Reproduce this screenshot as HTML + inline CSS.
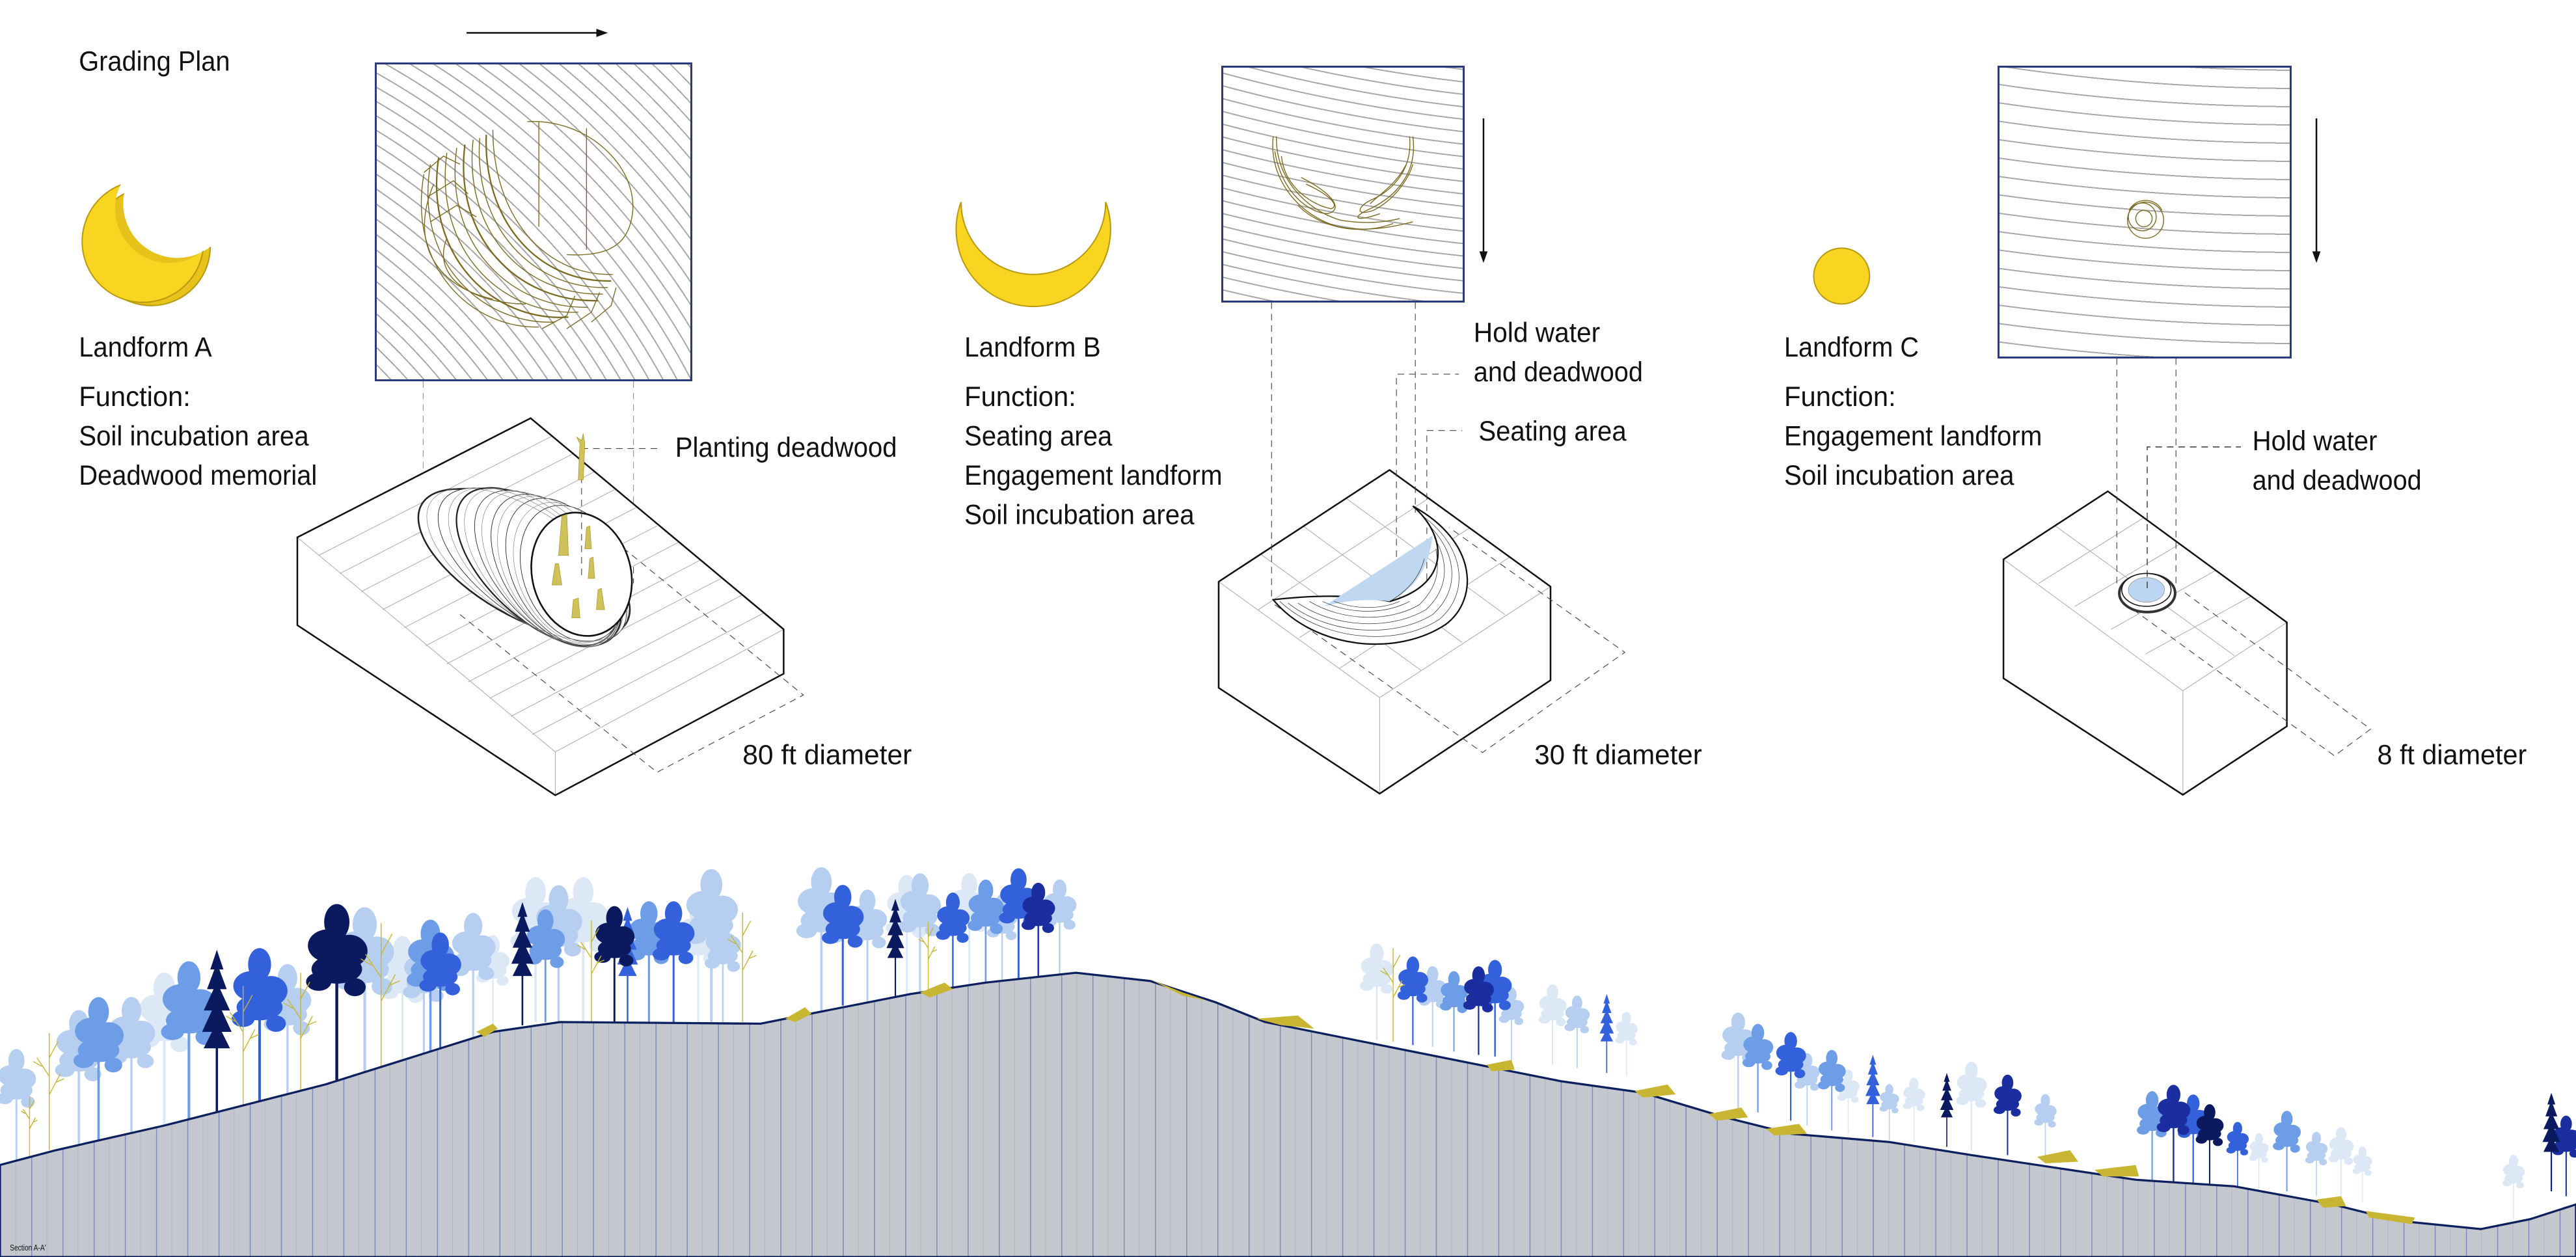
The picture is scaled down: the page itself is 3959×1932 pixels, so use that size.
<!DOCTYPE html>
<html><head><meta charset="utf-8"><style>
html,body{margin:0;padding:0;background:#fff;}
body{width:3959px;height:1932px;position:relative;overflow:hidden;}
.plan{position:absolute;box-sizing:border-box;border:3px solid #2b3a78;background-color:#fff;}
svg{position:absolute;left:0;top:0;}
text{font-family:"Liberation Sans Narrow","Liberation Sans",sans-serif;font-size:17px;fill:#111;}
</style></head><body>
<div class="plan" style="left:576px;top:96px;width:488px;height:490px;background-image:repeating-radial-gradient(circle at -576px 1040px, rgba(255,255,255,0) 0px, rgba(255,255,255,0) 17px, #a8a8a8 17px, #a8a8a8 19px);"></div>
<div class="plan" style="left:1877px;top:101px;width:374px;height:364px;background-image:repeating-radial-gradient(circle at 648px -2374px, rgba(255,255,255,0) 0px, rgba(255,255,255,0) 17px, #a8a8a8 17px, #a8a8a8 19px);"></div>
<div class="plan" style="left:3070px;top:101px;width:452px;height:450px;background-image:repeating-radial-gradient(circle at 465px -3131px, rgba(255,255,255,0) 0px, rgba(255,255,255,0) 26px, #a8a8a8 26px, #a8a8a8 28px);"></div>
<svg width="3959" height="1932" viewBox="0 0 1568 765" preserveAspectRatio="none" xmlns="http://www.w3.org/2000/svg">
<defs>
<pattern id="sec" width="19" height="6" patternUnits="userSpaceOnUse">
<rect width="19" height="6" fill="#c5c7ce"/>
<line x1="0.3" y1="0" x2="0.3" y2="6" stroke="#7d8cc0" stroke-width="0.6"/>
<line x1="9.5" y1="0" x2="9.5" y2="6" stroke="#b0b6c8" stroke-width="0.4"/>
</pattern>
<mask id="mA"><rect x="0" y="0" width="200" height="250" fill="#fff"/><circle cx="103" cy="127" r="33" fill="#000"/></mask>
<mask id="mA2"><rect x="0" y="0" width="200" height="250" fill="#fff"/><circle cx="108" cy="124" r="33" fill="#000"/></mask>
<g id="t1">
<rect x="-0.8" y="-92" width="1.6" height="92" fill="currentColor"/>
<ellipse cx="0" cy="-88" rx="7" ry="10" fill="currentColor"/>
<ellipse cx="-5" cy="-75" rx="11" ry="9" fill="currentColor"/>
<ellipse cx="7" cy="-72" rx="10" ry="9" fill="currentColor"/>
<ellipse cx="0" cy="-62" rx="14" ry="8" fill="currentColor"/>
<ellipse cx="-10" cy="-55" rx="7" ry="5" fill="currentColor"/>
<ellipse cx="10" cy="-52" rx="6" ry="5" fill="currentColor"/>
</g>
<g id="t2">
<rect x="-0.7" y="-96" width="1.4" height="96" fill="currentColor"/>
<polygon points="0,-100 4,-88 1.5,-88 6,-76 2,-76 8,-63 3,-63 9,-50 3,-50 8,-40 -8,-40 -3,-50 -9,-50 -3,-63 -8,-63 -2,-76 -6,-76 -1.5,-88 -4,-88" fill="currentColor"/>
</g>
<g id="t3" fill="none" stroke="currentColor" stroke-width="1.4" vector-effect="non-scaling-stroke">
<path d="M0,0 V-95 M0,-60 L-10,-75 M0,-45 L9,-62 M0,-75 L7,-88 M-6,-68 L-13,-72 M5,-55 L12,-58" vector-effect="non-scaling-stroke"/>
</g>
</defs>

<text x="48" y="43" textLength="92" lengthAdjust="spacingAndGlyphs">Grading Plan</text>
<text x="48" y="217" textLength="81" lengthAdjust="spacingAndGlyphs">Landform A</text>
<text x="48" y="247" textLength="68" lengthAdjust="spacingAndGlyphs">Function:</text>
<text x="48" y="271" textLength="140" lengthAdjust="spacingAndGlyphs">Soil incubation area</text>
<text x="48" y="295" textLength="145" lengthAdjust="spacingAndGlyphs">Deadwood memorial</text>
<text x="411" y="278" textLength="135" lengthAdjust="spacingAndGlyphs">Planting deadwood</text>
<text x="452" y="465" textLength="103" lengthAdjust="spacingAndGlyphs">80 ft diameter</text>
<text x="587" y="217" textLength="83" lengthAdjust="spacingAndGlyphs">Landform B</text>
<text x="587" y="247" textLength="68" lengthAdjust="spacingAndGlyphs">Function:</text>
<text x="587" y="271" textLength="90" lengthAdjust="spacingAndGlyphs">Seating area</text>
<text x="587" y="295" textLength="157" lengthAdjust="spacingAndGlyphs">Engagement landform</text>
<text x="587" y="319" textLength="140" lengthAdjust="spacingAndGlyphs">Soil incubation area</text>
<text x="897" y="208" textLength="77" lengthAdjust="spacingAndGlyphs">Hold water</text>
<text x="897" y="232" textLength="103" lengthAdjust="spacingAndGlyphs">and deadwood</text>
<text x="900" y="268" textLength="90" lengthAdjust="spacingAndGlyphs">Seating area</text>
<text x="934" y="465" textLength="102" lengthAdjust="spacingAndGlyphs">30 ft diameter</text>
<text x="1086" y="217" textLength="82" lengthAdjust="spacingAndGlyphs">Landform C</text>
<text x="1086" y="247" textLength="68" lengthAdjust="spacingAndGlyphs">Function:</text>
<text x="1086" y="271" textLength="157" lengthAdjust="spacingAndGlyphs">Engagement landform</text>
<text x="1086" y="295" textLength="140" lengthAdjust="spacingAndGlyphs">Soil incubation area</text>
<text x="1371" y="274" textLength="76" lengthAdjust="spacingAndGlyphs">Hold water</text>
<text x="1371" y="298" textLength="103" lengthAdjust="spacingAndGlyphs">and deadwood</text>
<text x="1447" y="465" textLength="91" lengthAdjust="spacingAndGlyphs">8 ft diameter</text>

<g fill="#f7d520" stroke="#b89a10" stroke-width="0.8">
<circle cx="92" cy="150" r="36" mask="url(#mA2)" fill="#e7c21a"/>
<circle cx="87" cy="147" r="37" mask="url(#mA)"/>
<path d="M585,123 A47 47 0 1 0 673,123 A44 44 0 0 1 585,123 Z"/>
<circle cx="1121" cy="168" r="17"/>
</g>

<g stroke="#111" stroke-width="1" fill="#111">
<line x1="284" y1="20" x2="366" y2="20"/><polygon points="370,20 363,17.5 363,22.5" stroke="none"/>
<line x1="903" y1="72" x2="903" y2="156"/><polygon points="903,160 900.5,153 905.5,153" stroke="none"/>
<line x1="1410" y1="72" x2="1410" y2="156"/><polygon points="1410,160 1407.5,153 1412.5,153" stroke="none"/>
</g>

<g fill="none" stroke="#7a6a20" stroke-width="0.55">
<path d="M321,74 C360,72 392,105 384,135 C380,152 365,156 345,155"/>
<line x1="328" y1="74" x2="328" y2="138"/>
<line x1="357" y1="78" x2="357" y2="152"/>
<path d="M300,79 C300,130 330,168 373,167"/>
<path d="M296,82 C294,133 326,172 372,171" stroke-width="0.9"/>
<path d="M292,84 C288,136 322,176 370,175"/>
<path d="M288,85 C282,140 318,180 367,179"/>
<path d="M283,88 C276,144 314,184 364,183" stroke-width="0.9"/>
<path d="M278,90 C270,148 310,188 358,187"/>
<path d="M272,93 C264,152 305,192 352,190"/>
<path d="M267,96 C258,156 300,196 346,193" stroke-width="0.9"/>
<path d="M262,100 C252,160 294,198 338,196"/>
<path d="M258,106 C248,164 288,200 328,199"/>
<path d="M264,112 C248,150 268,175 300,182"/>
<path d="M272,145 C262,170 290,185 320,185"/>
<path d="M258,105 L270,95 L280,100 M260,120 L276,110 L285,118 M262,135 L278,125 L290,132"/>
<path d="M330,200 L345,192 L350,180 M345,200 L360,190 L365,178 M360,196 L372,186 L375,175"/>
<path d="M775,83 C772,110 792,132 815,138 C830,141 845,139 860,135"/>
<path d="M777,83 C776,108 795,128 816,134 C828,136 840,136 852,133"/>
<path d="M780,95 C782,115 800,125 810,127 C815,126 812,120 795,112"/>
<path d="M776,92 C780,118 798,130 808,130 C818,128 812,118 792,108"/>
<path d="M860,83 C863,105 850,120 832,128 C822,133 826,135 840,130"/>
<path d="M858,83 C860,103 848,116 834,122 C826,126 825,132 836,128 C848,122 857,110 860,100"/>
<path d="M856,100 C850,112 840,118 834,124"/>
<path d="M790,125 C805,140 830,143 848,136"/>
<circle cx="1305" cy="133" r="5"/><circle cx="1304" cy="132" r="8.5"/><circle cx="1306" cy="134" r="11"/>
<path d="M1296,128 C1300,120 1312,120 1316,128"/>
</g>

<g stroke="#999" stroke-width="0.45" fill="none" stroke-dasharray="4 3">
<line x1="257.6" y1="232" x2="257.6" y2="330"/>
<line x1="385.6" y1="232" x2="385.6" y2="345"/>
</g>
<polygon points="181,327 323,254.5 477,383 338,457.6" fill="#fff" stroke="none"/>
<g stroke="#aaa" stroke-width="0.4">
<line x1="194" y1="338" x2="336" y2="265.4"/>
<line x1="207" y1="349" x2="349" y2="276"/>
<line x1="220" y1="360" x2="362" y2="287"/>
<line x1="233" y1="371" x2="374" y2="298"/>
<line x1="246" y1="382" x2="387" y2="309"/>
<line x1="259" y1="393" x2="400" y2="320"/>
<line x1="272" y1="404" x2="413" y2="330"/>
<line x1="285" y1="415" x2="426" y2="341"/>
<line x1="298" y1="425" x2="439" y2="352"/>
<line x1="311" y1="436" x2="452" y2="362"/>
<line x1="324" y1="447" x2="465" y2="373"/>
<line x1="181" y1="327" x2="338" y2="457.6"/>
<line x1="338" y1="457.6" x2="477" y2="383"/>
<line x1="338" y1="457.6" x2="338" y2="484"/>
</g>
<polygon points="181,327 323,254.5 477,383 477,410 338,484 181,380.5" fill="none" stroke="#111" stroke-width="1"/>
<g fill="#fff" stroke="#222" stroke-width="0.35">
<ellipse cx="319" cy="343" rx="72" ry="32" transform="rotate(30 319 343)" stroke-width="1"/>
<ellipse cx="324" cy="344" rx="67" ry="31.7" transform="rotate(36 324 344)"/>
<ellipse cx="328" cy="345" rx="62" ry="31.4" transform="rotate(43 328 345)" stroke-width="0.9"/>
<ellipse cx="333" cy="346" rx="57" ry="31" transform="rotate(49 333 346)"/>
<ellipse cx="338" cy="347" rx="52" ry="30.9" transform="rotate(55 338 347)"/>
<ellipse cx="343" cy="348" rx="48" ry="30.6" transform="rotate(62 343 348)"/>
<ellipse cx="349" cy="349" rx="43" ry="30.3" transform="rotate(68 349 349)"/>
<ellipse cx="354" cy="349.5" rx="38" ry="30" transform="rotate(75 354 349.5)" stroke-width="1"/>
</g>
<g fill="none" stroke="#777" stroke-width="0.25">
<ellipse cx="321" cy="343.5" rx="70" ry="31.8" transform="rotate(33 321 343.5)"/>
<ellipse cx="326" cy="344.5" rx="64" ry="31.5" transform="rotate(40 326 344.5)"/>
<ellipse cx="330" cy="345.5" rx="60" ry="31.2" transform="rotate(46 330 345.5)"/>
<ellipse cx="335" cy="346.5" rx="55" ry="31" transform="rotate(52 335 346.5)"/>
<ellipse cx="340" cy="347.5" rx="50" ry="30.8" transform="rotate(58 340 347.5)"/>
<ellipse cx="346" cy="348.5" rx="45" ry="30.5" transform="rotate(65 346 348.5)"/>
</g>
<ellipse cx="354" cy="349.5" rx="38" ry="30" transform="rotate(75 354 349.5)" fill="#fff" stroke="#111" stroke-width="1"/>
<g stroke="#444" stroke-width="0.45" fill="none" stroke-dasharray="4 3">
<line x1="354" y1="273" x2="401" y2="273"/>
<line x1="354" y1="290" x2="354" y2="350"/>
<line x1="385.6" y1="345" x2="385.6" y2="355"/>
<polyline points="280,374 400,470 489,423 380,334"/>
</g>
<g fill="#cfc25a" stroke="#a99a30" stroke-width="0.3">
<path d="M352,292 L353,270 L351,266 L354,268 L355,264 L356,270 L355,292 Z"/>
<path d="M340,338 L342,314 L345,313 L346,338 Z"/>
<path d="M356,334 L357,321 L359,320 L360,334 Z"/>
<path d="M336,356 L338,343 L340,343 L342,356 Z"/>
<path d="M358,352 L359,340 L361,339 L362,352 Z"/>
<path d="M348,376 L349,365 L352,364 L353,376 Z"/>
<path d="M363,371 L364,359 L366,358 L368,371 Z"/>
</g>

<polygon points="741.8,354 845.8,286 943.8,357 839.8,424.6" fill="#fff"/>
<g stroke="#aaa" stroke-width="0.4">
<line x1="766" y1="371" x2="870" y2="303"/>
<line x1="791" y1="388" x2="895" y2="321"/>
<line x1="815" y1="407" x2="919" y2="339"/>
<line x1="767" y1="337" x2="865" y2="408"/>
<line x1="793" y1="320" x2="890" y2="391"/>
<line x1="819" y1="303" x2="916" y2="374"/>
<line x1="741.8" y1="354" x2="839.8" y2="424.6"/>
<line x1="839.8" y1="424.6" x2="943.8" y2="357"/>
<line x1="839.8" y1="424.6" x2="839.8" y2="483"/>
</g>
<polygon points="741.8,354 845.8,286 943.8,357 943.8,414 839.8,483 741.8,418.6" fill="none" stroke="#111" stroke-width="1"/>
<g stroke="#444" stroke-width="0.45" fill="none" stroke-dasharray="4 3">
<line x1="774" y1="184" x2="774" y2="365"/>
<line x1="861.5" y1="184" x2="861.5" y2="312"/>
<polyline points="850,353 850,227.7 888,227.7"/>
<polyline points="868.5,360 868.5,262 890,262"/>
<polyline points="776,368 902.4,458 989,397 882,321"/>
</g>
<path d="M775,365 C800,395 850,400 880,380 C900,365 900,330 860,308 C880,325 885,355 846,366 C825,362 800,362 775,365 Z" fill="#fff" stroke="#111" stroke-width="0.9"/>
<path d="M806,369 L872,326 C870,345 862,358 846,366 C830,364 818,366 806,369 Z" fill="#bfd7f0"/>
<g fill="none" stroke="#333" stroke-width="0.3">
<path d="M779,366 C805,390 850,394 876,377 C894,362 893,334 866,314"/>
<path d="M784,367 C808,386 848,389 872,374 C888,360 888,338 870,320"/>
<path d="M790,367 C812,382 846,384 868,371 C882,358 882,342 873,327"/>
<path d="M797,366 C817,378 845,379 864,368 C876,356 876,346 874,334"/>
<path d="M805,366 C822,374 843,374 858,366"/>
<path d="M812,366 C826,371 840,371 852,366"/>
<path d="M846,366 C856,360 864,352 867,340"/>
</g>
<path d="M860,308 C880,325 885,355 846,366" fill="none" stroke="#111" stroke-width="0.8"/>

<polygon points="1219.5,340.4 1283,299 1392,378.8 1328.7,420.4" fill="#fff"/>
<g stroke="#aaa" stroke-width="0.4">
<line x1="1241" y1="355" x2="1305" y2="315"/>
<line x1="1263" y1="369" x2="1327" y2="331"/>
<line x1="1285" y1="383" x2="1349" y2="347"/>
<line x1="1306" y1="398" x2="1370" y2="363"/>
<line x1="1251" y1="320" x2="1360" y2="399"/>
<line x1="1219.5" y1="340.4" x2="1328.7" y2="420.4"/>
<line x1="1328.7" y1="420.4" x2="1392" y2="378.8"/>
<line x1="1328.7" y1="420.4" x2="1328.7" y2="483.7"/>
</g>
<polygon points="1219.5,340.4 1283,299 1392,378.8 1392,442 1328.7,483.7 1219.5,412.8" fill="none" stroke="#111" stroke-width="1"/>
<g stroke="#444" stroke-width="0.45" fill="none" stroke-dasharray="4 3">
<line x1="1288.5" y1="218" x2="1288.5" y2="355"/>
<line x1="1324.5" y1="218" x2="1324.5" y2="355"/>
<polyline points="1298.5,371 1421,460 1443,443.7 1327.6,359"/>
</g>
<ellipse cx="1307" cy="361" rx="17" ry="11.5" fill="#fff" stroke="#333" stroke-width="1.6"/>
<ellipse cx="1306.5" cy="359" rx="15" ry="10" fill="#fff" stroke="#111" stroke-width="0.6"/>
<ellipse cx="1306.5" cy="359" rx="11" ry="7.5" fill="#bcd6f2" stroke="#888" stroke-width="0.3"/>
<polyline points="1307,358 1307,272 1364,272" fill="none" stroke="#222" stroke-width="0.5" stroke-dasharray="4 3"/>

<g color="#dde8f7">
<use href="#t1" transform="translate(100,685) scale(0.95)"/>
<use href="#t1" transform="translate(245,648) scale(0.8)"/>
<use href="#t1" transform="translate(300,628) scale(0.6)"/>
<use href="#t1" transform="translate(326,622) scale(0.9)"/>
<use href="#t1" transform="translate(355,622) scale(0.9)"/>
<use href="#t1" transform="translate(425,622) scale(0.75)"/>
<use href="#t1" transform="translate(552,606) scale(0.75)"/>
<use href="#t1" transform="translate(590,600) scale(0.7)"/>
<use href="#t1" transform="translate(838,633) scale(0.6)"/>
<use href="#t1" transform="translate(945,648) scale(0.5)"/>
<use href="#t1" transform="translate(990,655) scale(0.4)"/>
<use href="#t1" transform="translate(1125,690) scale(0.4)"/>
<use href="#t1" transform="translate(1165,695) scale(0.4)"/>
<use href="#t1" transform="translate(1200,700) scale(0.55)"/>
<use href="#t1" transform="translate(1375,724) scale(0.35)"/>
<use href="#t1" transform="translate(1425,730) scale(0.45)"/>
<use href="#t1" transform="translate(1438,732) scale(0.35)"/>
<use href="#t1" transform="translate(1530,742) scale(0.4)"/>
</g>
<g color="#b6cff0">
<use href="#t1" transform="translate(10,707) scale(0.7)"/>
<use href="#t1" transform="translate(48,698) scale(0.85)"/>
<use href="#t1" transform="translate(80,690) scale(0.85)"/>
<use href="#t1" transform="translate(175,670) scale(0.85)"/>
<use href="#t1" transform="translate(222,655) scale(1.05)"/>
<use href="#t1" transform="translate(258,645) scale(0.75)"/>
<use href="#t1" transform="translate(288,634) scale(0.8)"/>
<use href="#t1" transform="translate(340,622) scale(0.85)"/>
<use href="#t1" transform="translate(433,622) scale(0.95)"/>
<use href="#t1" transform="translate(440,622) scale(0.65)"/>
<use href="#t1" transform="translate(500,616) scale(0.9)"/>
<use href="#t1" transform="translate(528,610) scale(0.7)"/>
<use href="#t1" transform="translate(560,605) scale(0.75)"/>
<use href="#t1" transform="translate(610,598) scale(0.55)"/>
<use href="#t1" transform="translate(645,594) scale(0.6)"/>
<use href="#t1" transform="translate(872,637) scale(0.5)"/>
<use href="#t1" transform="translate(920,645) scale(0.45)"/>
<use href="#t1" transform="translate(960,650) scale(0.45)"/>
<use href="#t1" transform="translate(1058,675) scale(0.6)"/>
<use href="#t1" transform="translate(1100,685) scale(0.45)"/>
<use href="#t1" transform="translate(1150,694) scale(0.35)"/>
<use href="#t1" transform="translate(1245,705) scale(0.4)"/>
<use href="#t1" transform="translate(1410,728) scale(0.4)"/>
</g>
<g color="#6d9de6">
<use href="#t1" transform="translate(60,695) scale(0.9)"/>
<use href="#t1" transform="translate(115,683) scale(1)"/>
<use href="#t1" transform="translate(262,643) scale(0.85)"/>
<use href="#t1" transform="translate(332,622) scale(0.7)"/>
<use href="#t1" transform="translate(395,622) scale(0.75)"/>
<use href="#t1" transform="translate(600,599) scale(0.65)"/>
<use href="#t1" transform="translate(885,640) scale(0.5)"/>
<use href="#t1" transform="translate(1070,677) scale(0.55)"/>
<use href="#t1" transform="translate(1115,688) scale(0.5)"/>
<use href="#t1" transform="translate(1310,718) scale(0.55)"/>
<use href="#t1" transform="translate(1392,725) scale(0.5)"/>
</g>
<g color="#3361db">
<use href="#t1" transform="translate(158,675) scale(1)"/>
<use href="#t1" transform="translate(268,641) scale(0.75)"/>
<use href="#t2" transform="translate(382,622) scale(0.7)"/>
<use href="#t1" transform="translate(410,622) scale(0.75)"/>
<use href="#t1" transform="translate(513,612) scale(0.75)"/>
<use href="#t1" transform="translate(580,602) scale(0.6)"/>
<use href="#t1" transform="translate(620,597) scale(0.7)"/>
<use href="#t1" transform="translate(860,636) scale(0.55)"/>
<use href="#t1" transform="translate(910,643) scale(0.6)"/>
<use href="#t2" transform="translate(978,653) scale(0.48)"/>
<use href="#t1" transform="translate(1090,682) scale(0.55)"/>
<use href="#t2" transform="translate(1140,692) scale(0.5)"/>
<use href="#t1" transform="translate(1335,720) scale(0.55)"/>
<use href="#t1" transform="translate(1362,722) scale(0.4)"/>
</g>
<g color="#1a2ea0">
<use href="#t1" transform="translate(632,596) scale(0.6)"/>
<use href="#t1" transform="translate(900,642) scale(0.55)"/>
<use href="#t1" transform="translate(1222,703) scale(0.5)"/>
<use href="#t1" transform="translate(1323,719) scale(0.6)"/>
<use href="#t1" transform="translate(1562,728) scale(0.5)"/>
</g>
<g color="#0b1a5e">
<use href="#t2" transform="translate(132,678) scale(1)"/>
<use href="#t1" transform="translate(205,658) scale(1.1)"/>
<use href="#t2" transform="translate(318,624) scale(0.75)"/>
<use href="#t1" transform="translate(374,622) scale(0.72)"/>
<use href="#t2" transform="translate(545,607) scale(0.6)"/>
<use href="#t2" transform="translate(1185,698) scale(0.45)"/>
<use href="#t1" transform="translate(1345,721) scale(0.5)"/>
<use href="#t2" transform="translate(1553,725) scale(0.6)"/>
</g>
<g color="#c8b531">
<use href="#t3" transform="translate(18,705) scale(0.4)"/>
<use href="#t3" transform="translate(30,700) scale(0.75)"/>
<use href="#t3" transform="translate(148,676) scale(0.8)"/>
<use href="#t3" transform="translate(183,668) scale(0.8)"/>
<use href="#t3" transform="translate(232,652) scale(0.95)"/>
<use href="#t3" transform="translate(360,622) scale(0.65)"/>
<use href="#t3" transform="translate(452,622) scale(0.7)"/>
<use href="#t3" transform="translate(565,604) scale(0.45)"/>
<use href="#t3" transform="translate(848,634) scale(0.6)"/>
</g>
<path d="M0,709 L34,700 L100,685 L198,660 L300,628 L341,622 L463,623 L493,617 L554,605 L600,598 L655,592 L700,597 L740,610 L770,622 L810,630 L900,648 L950,658 L1000,665 L1050,680 L1090,690 L1150,695 L1200,703 L1260,712 L1300,718 L1360,722 L1420,733 L1460,743 L1510,748 L1540,742 L1568,733 L1568,765 L0,765 Z" fill="url(#sec)" stroke="#0c1f5e" stroke-width="1.3"/>
<g fill="#c8b531">
<path d="M290,628 L300,623 L303,626 L295,631 Z"/>
<path d="M478,620 L490,613 L494,617 L484,622 Z"/>
<path d="M560,604 L575,598 L580,602 L566,607 Z"/>
<path d="M700,596 L720,604 L735,609 L720,606 Z"/>
<path d="M765,620 L790,618 L800,626 L780,624 Z"/>
<path d="M905,648 L920,645 L922,651 L908,652 Z"/>
<path d="M995,664 L1015,660 L1020,666 L1000,668 Z"/>
<path d="M1040,678 L1060,674 L1064,680 L1045,682 Z"/>
<path d="M1075,687 L1095,684 L1100,690 L1080,691 Z"/>
<path d="M1240,704 L1260,700 L1265,707 L1245,708 Z"/>
<path d="M1275,712 L1300,709 L1302,716 L1280,716 Z"/>
<path d="M1410,730 L1425,728 L1428,734 L1414,735 Z"/>
<path d="M1440,737 L1470,741 L1468,745 L1442,741 Z"/>
</g>
<text x="6" y="761" style="font-size:5px" textLength="22" lengthAdjust="spacingAndGlyphs">Section A-A'</text>
</svg>
</body></html>
